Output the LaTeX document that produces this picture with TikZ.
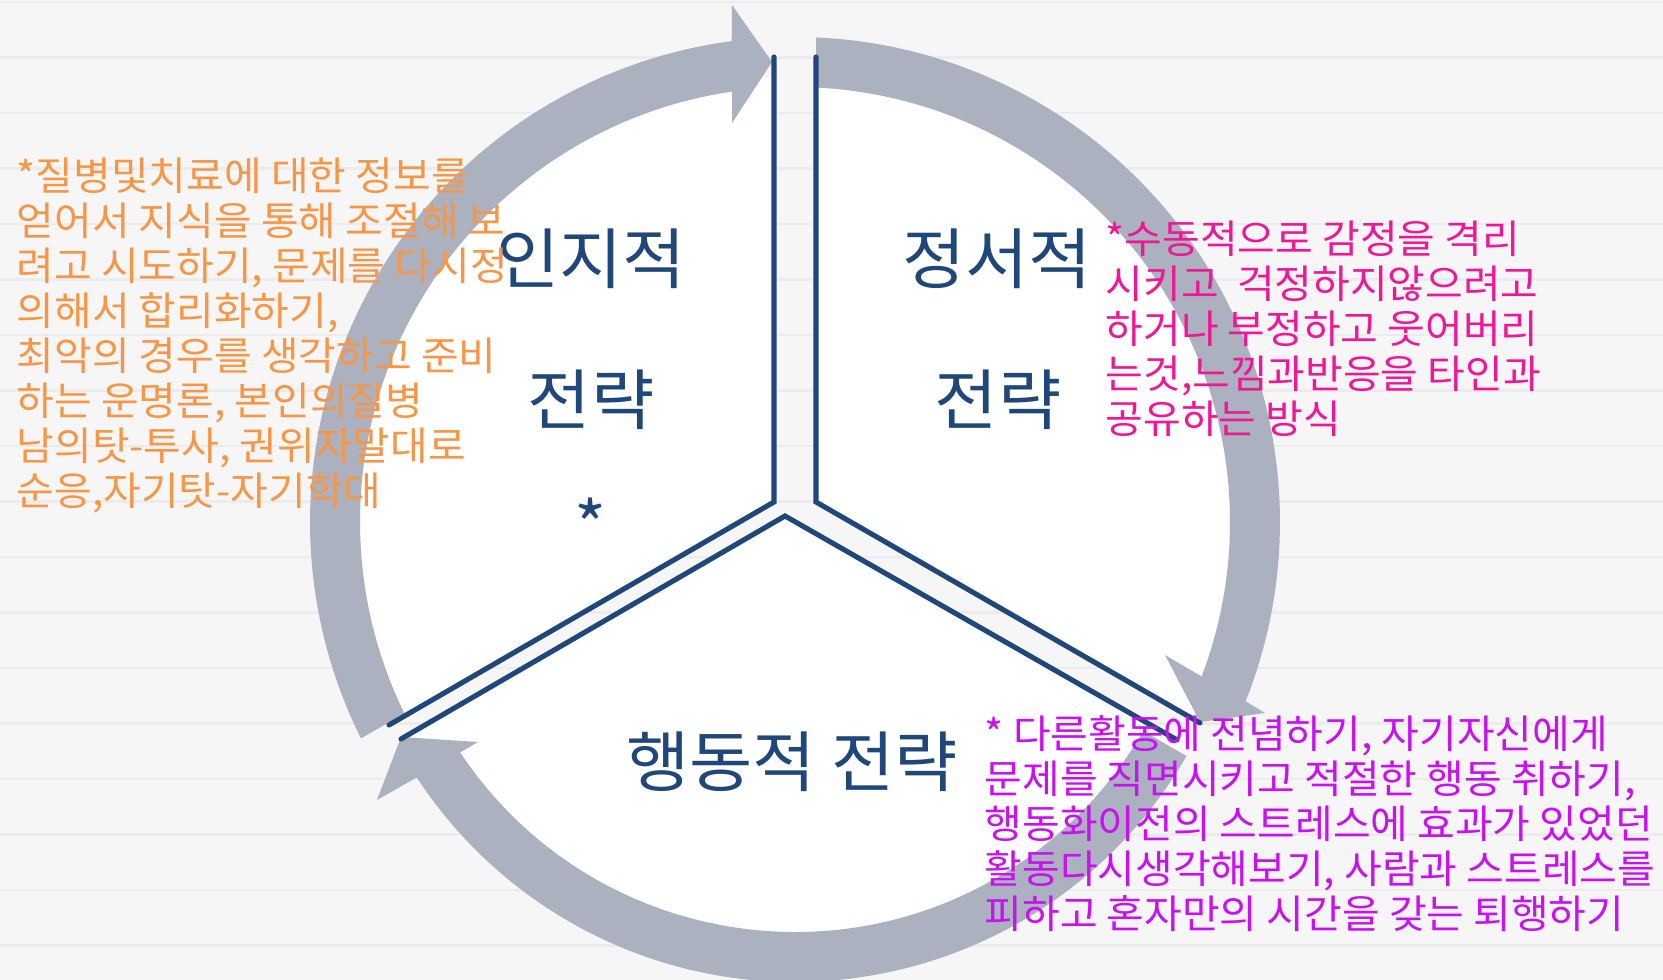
\documentclass[tikz,border=0pt]{standalone}
\usepackage{fontspec}
\newfontfamily\krs[FakeStretch=1.04]{Noto Sans CJK KR}
\newfontfamily\krb[FakeStretch=1.04]{Noto Sans CJK KR}
\definecolor{navy}{RGB}{31,71,122}
\definecolor{ringgray}{RGB}{171,177,191}
\definecolor{orangetxt}{RGB}{247,150,70}
\definecolor{pinktxt}{RGB}{240,22,150}
\definecolor{purpletxt}{RGB}{200,16,240}
\definecolor{bgcol}{RGB}{246,246,246}
\definecolor{stripe}{RGB}{236,236,236}
\begin{document}
\begin{tikzpicture}[x=0.01cm,y=0.01cm,
  band/.style={fill=ringgray},
  divider/.style={draw=navy,line width=1.45pt,line join=miter,line cap=round},
  biglabel/.style={font=\krb\fontsize{18.8}{22}\selectfont,text=navy,inner sep=0},
  notes/.style={font=\krs\fontsize{11.2}{12.8}\selectfont,align=left,anchor=north west,inner sep=0}]
\useasboundingbox (0,0) rectangle (1663,-980);
% background with faint stripes
\fill[bgcol] (0,0) rectangle (1663,-980);
\foreach \k in {0,...,17} \draw[stripe,line width=0.8pt] (0,{-2-55.5*\k}) -- (1663,{-2-55.5*\k});
% white wedges
\begin{scope}
\clip (795,-522) circle[radius=445];
\fill[white] (774,-30) -- (774,-502) -- (389,-725) -- (200,-835) -- (200,-30) -- cycle;
\fill[white] (816,-30) -- (816,-502) -- (1200,-723) -- (1400,-838) -- (1400,-30) -- cycle;
\fill[white] (250,-827) -- (401,-739) -- (785,-516) -- (1177,-740) -- (1400,-868) -- (1400,-1000) -- (250,-1000) -- cycle;
\end{scope}
% circular arrows
\fill[band] ([shift={(795,-522)}]206.5:485) arc[start angle=206.5,end angle=97.5,radius=485]
  -- (732,-5) -- (772,-62) -- (732,-123)
  -- ([shift={(795,-522)}]98.3:435) arc[start angle=98.3,end angle=206.1,radius=435] -- cycle;
\fill[band] ([shift={(795,-522)}]87.5:485) arc[start angle=87.5,end angle=-21.7,radius=485]
  -- (1265,-713) -- (1200,-722) -- (1165,-655)
  -- ([shift={(795,-522)}]-20.8:435) arc[start angle=-20.8,end angle=87.2,radius=435] -- cycle;
\fill[band] ([shift={(795,-530)}]-30:452) arc[start angle=-30,end angle=-146.8,radius=452]
  -- (377,-800) -- (401,-737) -- (478,-742)
  -- ([shift={(795,-530)}]-146.4:402) arc[start angle=-146.4,end angle=-30,radius=402] -- cycle;
% divider lines
\draw[divider] (774,-57) -- (774,-502) -- (389,-725);
\draw[divider] (816,-57) -- (816,-502) -- (1200,-723);
\draw[divider] (401,-739) -- (785,-516) -- (1177,-740);
% big labels
\node[biglabel] (cogA) at (591,-259) {인지적};
\node[biglabel] (cogB) at (591,-400) {전략};
\node[biglabel] (cogC) at (591,-524) {*};
\node[biglabel] (emoA) at (997,-259) {정서적};
\node[biglabel] (emoB) at (998,-400) {전략};
\node[biglabel] (beh) at (792,-762) {행동적 전략};
% notes
\node[notes,text=orangetxt] (cognote) at (16,-157) {*질병및치료에 대한 정보를\\얻어서 지식을 통해 조절해 보\\려고 시도하기, 문제를 다시정\\의해서 합리화하기,\\최악의 경우를 생각하고 준비\\하는 운명론, 본인의질병\\남의탓-투사, 권위자말대로\\순응,자기탓-자기학대};
\node[notes,text=pinktxt] (emonote) at (1105,-220) {*수동적으로 감정을 격리\\시키고 \ 걱정하지않으려고\\하거나 부정하고 웃어버리\\는것,느낌과반응을 타인과\\공유하는 방식};
\node[notes,text=purpletxt] (behnote) at (984,-715) {* 다른활동에 전념하기, 자기자신에게\\문제를 직면시키고 적절한 행동 취하기,\\행동화이전의 스트레스에 효과가 있었던\\활동다시생각해보기, 사람과 스트레스를\\피하고 혼자만의 시간을 갖는 퇴행하기};
\end{tikzpicture}
\end{document}
